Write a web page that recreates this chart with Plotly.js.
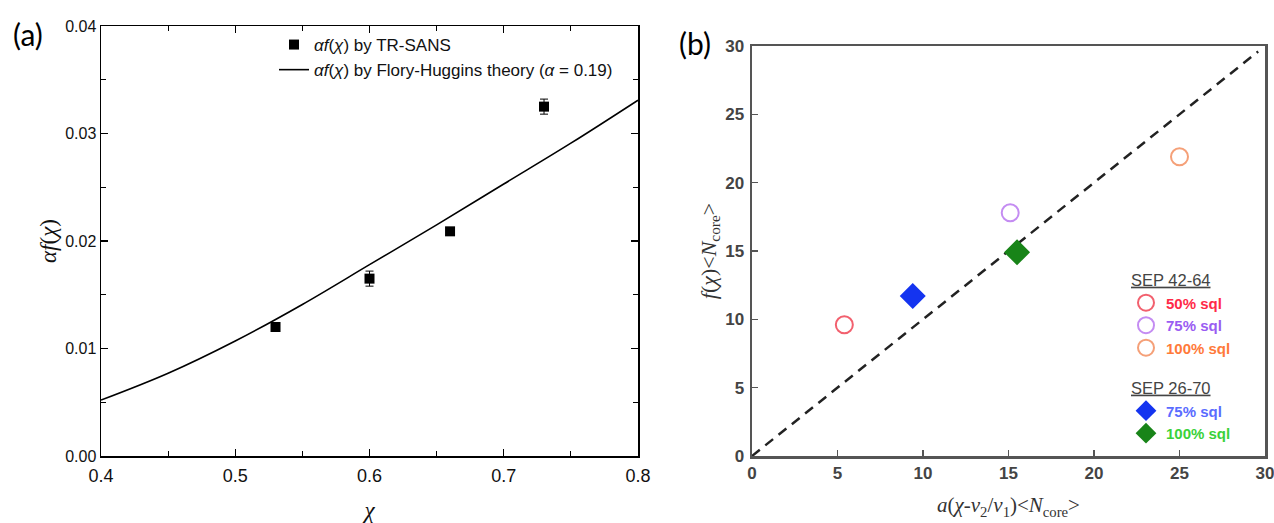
<!DOCTYPE html>
<html><head><meta charset="utf-8">
<script src="https://cdn.plot.ly/plotly-3.0.1.min.js"></script>
<style>html,body{margin:0;padding:0;background:#fff}</style>
</head><body><div id="chart" style="width:1274px;height:523px"></div>
<script>
// ---- Panel (a) data ----
const chiSans = [0.53, 0.60, 0.66, 0.73];
const afSans = [0.0120, 0.0165, 0.0209, 0.0325];
const afSansErr = [0.0003, 0.0007, 0.0003, 0.0007];
const chiTheory = [0.40, 0.45, 0.50, 0.55, 0.60, 0.65, 0.70, 0.75, 0.80];
const afTheory = [0.0052, 0.0077, 0.0107, 0.0141, 0.0178, 0.0215, 0.0253, 0.0291, 0.0331];
const nameSans = '<i>αf</i>(<i>χ</i>) by TR-SANS';
const nameTheory = '<i>αf</i>(<i>χ</i>) by Flory-Huggins theory (<i>α</i> = 0.19)';

// ---- Panel (b) data ----
const sep4264Labels = ['50% sql', '75% sql', '100% sql'];
const sep4264X = [5.4, 15.1, 25.0];
const sep4264Y = [9.6, 17.8, 21.9];
const sep4264Colors = ['#f2606e', '#c48cf2', '#f5a078'];
const sep4264TextColors = ['#ff2a48', '#9a5cf2', '#ff7a3a'];
const sep2670Labels = ['75% sql', '100% sql'];
const sep2670X = [9.4, 15.5];
const sep2670Y = [11.7, 14.9];
const sep2670Colors = ['#1434f0', '#188418'];
const sep2670TextColors = ['#5a6cff', '#3ad23a'];
const parityX = [0, 29.6];
const parityY = [0, 29.6];

const sansA = 'Liberation Sans, Arial';
const serif = 'Liberation Serif, Times New Roman';

const traces = [];
traces.push({
  x: chiTheory, y: afTheory, type: 'scatter', mode: 'lines', name: nameTheory,
  line: {color: '#000', width: 1.6, shape: 'spline', smoothing: 1}, xaxis: 'x', yaxis: 'y', legend: 'legend', legendrank: 2
});
traces.push({
  x: chiSans, y: afSans, type: 'scatter', mode: 'markers', name: nameSans,
  marker: {symbol: 'square', size: 10, color: '#000'},
  error_y: {type: 'data', array: afSansErr, visible: true, color: '#000', thickness: 1, width: 4},
  xaxis: 'x', yaxis: 'y', legend: 'legend', legendrank: 1
});
traces.push({
  x: parityX, y: parityY, type: 'scatter', mode: 'lines', showlegend: false,
  line: {color: '#222', width: 2.5, dash: '10px,7px'}, xaxis: 'x2', yaxis: 'y2'
});
sep4264Labels.forEach((lab, i) => {
  traces.push({
    x: [sep4264X[i]], y: [sep4264Y[i]], type: 'scatter', mode: 'markers',
    name: '<span style="color:' + sep4264TextColors[i] + '">' + lab + '</span>',
    legendgroup: 'g1', legendgrouptitle: {text: '<u>SEP 42-64</u>', font: {family: sansA, size: 16.5, color: '#444'}},
    marker: {symbol: 'circle-open', size: 17, color: sep4264Colors[i], line: {width: 2}},
    xaxis: 'x2', yaxis: 'y2', legend: 'legend2'
  });
});
sep2670Labels.forEach((lab, i) => {
  traces.push({
    x: [sep2670X[i]], y: [sep2670Y[i]], type: 'scatter', mode: 'markers',
    name: '<span style="color:' + sep2670TextColors[i] + '">' + lab + '</span>',
    legendgroup: 'g2', legendgrouptitle: {text: '<u>SEP 26-70</u>', font: {family: sansA, size: 16.5, color: '#444'}},
    marker: {symbol: 'diamond', size: 20, color: sep2670Colors[i]},
    xaxis: 'x2', yaxis: 'y2', legend: 'legend2'
  });
});

const layout = {
  width: 1274, height: 523,
  margin: {l: 0, r: 0, t: 0, b: 0},
  paper_bgcolor: '#fff', plot_bgcolor: '#fff',
  showlegend: true,
  xaxis: {
    domain: [101/1274, 638/1274], range: [0.4, 0.8], dtick: 0.1, tickformat: '.1f',
    showgrid: false, zeroline: false, showline: true, linecolor: '#000', linewidth: 1.5, mirror: 'ticks',
    ticks: 'inside', ticklen: 7, tickcolor: '#000', tickwidth: 1.2,
    minor: {dtick: 0.05, ticks: 'inside', ticklen: 5, tickcolor: '#000', showgrid: false},
    tickfont: {family: sansA, size: 18, color: '#111'}, ticklabelstandoff: 3, ticklabeloverflow: 'allow', anchor: 'y',
    title: {text: '<i>χ</i>', font: {family: serif, size: 23, color: '#111'}, standoff: 24}
  },
  yaxis: {
    domain: [67/523, 497/523], range: [0, 0.04], dtick: 0.01, tickformat: '.2f',
    showgrid: false, zeroline: false, showline: true, linecolor: '#000', linewidth: 1.5, mirror: 'ticks',
    ticks: 'inside', ticklen: 7, tickcolor: '#000', tickwidth: 1.2,
    minor: {dtick: 0.005, ticks: 'inside', ticklen: 5, tickcolor: '#000', showgrid: false},
    tickfont: {family: sansA, size: 16, color: '#111'}, anchor: 'x',
    title: {text: '<i>αf</i>(<i>χ</i>)', font: {family: serif, size: 23, color: '#111'}, standoff: 2}
  },
  xaxis2: {
    domain: [752/1274, 1265/1274], range: [0, 30], dtick: 5,
    showgrid: false, zeroline: false, showline: true, linecolor: '#555', linewidth: 2.5, mirror: true,
    ticks: 'inside', ticklen: 6, tickcolor: '#555', tickwidth: 1.5,
    tickfont: {family: sansA, size: 17, color: '#444', weight: 'bold'}, ticklabeloverflow: 'allow', anchor: 'y2',
    title: {text: '<i>a</i>(<i>χ</i>-<i>v</i><sub>2</sub>/<i>v</i><sub>1</sub>)&lt;<i>N</i><sub>core</sub>&gt;', font: {family: serif, size: 21, color: '#333'}, standoff: 16}
  },
  yaxis2: {
    domain: [67/523, 477/523], range: [0, 30], dtick: 5,
    showgrid: false, zeroline: false, showline: true, linecolor: '#555', linewidth: 2.5, mirror: true,
    ticks: 'inside', ticklen: 6, tickcolor: '#555', tickwidth: 1.5,
    tickfont: {family: sansA, size: 17, color: '#444', weight: 'bold'}, ticklabelstandoff: 2, anchor: 'x2',
    title: {text: '<i>f</i>(<i>χ</i>)&lt;<i>N</i><sub>core</sub>&gt;', font: {family: serif, size: 22, color: '#333'}, standoff: 3}
  },
  legend: {
    x: 274/1274, y: 1 - 27/523, xanchor: 'left', yanchor: 'top',
    bgcolor: 'rgba(0,0,0,0)', font: {family: sansA, size: 17, color: '#111'},
    traceorder: 'normal', itemwidth: 30
  },
  legend2: {
    x: 1126/1274, y: 1 - 262/523, xanchor: 'left', yanchor: 'top',
    bgcolor: 'rgba(0,0,0,0)', font: {family: sansA, size: 15, weight: 'bold'},
    traceorder: 'grouped', tracegroupgap: 16, itemwidth: 30
  },
  annotations: [
    {text: '(a)', xref: 'paper', yref: 'paper', x: 28/1274, y: 1 - 34/523, xanchor: 'center', yanchor: 'middle', showarrow: false,
     font: {family: 'Lato, Open Sans', size: 30, color: '#000'}},
    {text: '(b)', xref: 'paper', yref: 'paper', x: 695/1274, y: 1 - 43/523, xanchor: 'center', yanchor: 'middle', showarrow: false,
     font: {family: 'Lato, Open Sans', size: 30, color: '#000'}}
  ]
};

Plotly.newPlot('chart', traces, layout, {displayModeBar: false, staticPlot: true});
</script>
</body></html>
